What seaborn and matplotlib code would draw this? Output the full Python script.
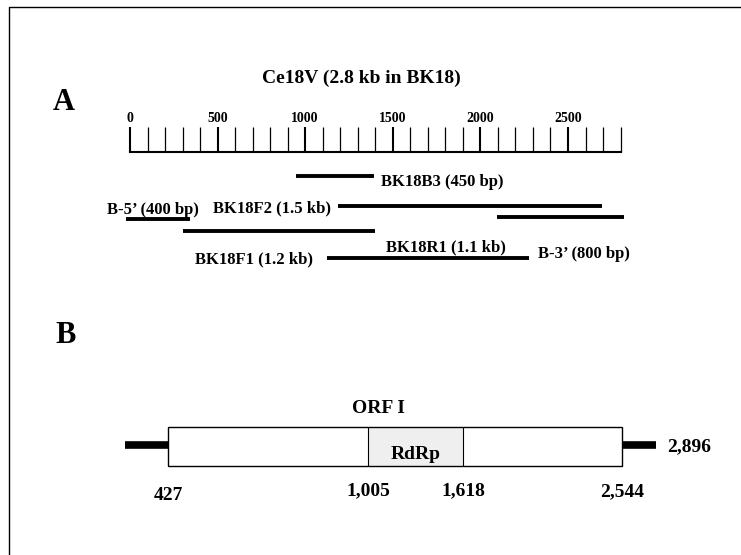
import numpy as np
import pandas as pd
import matplotlib
matplotlib.use("Agg")
import matplotlib.pyplot as plt
from matplotlib.ticker import MultipleLocator, FixedLocator
import seaborn as sns

# ---------------- data ----------------
title_a = "Ce18V (2.8 kb in BK18)"
ruler_max_bp = 2800
ruler_major_step = 500
ruler_minor_step = 100

fragment_names = ["BK18B3 (450 bp)", "BK18F2 (1.5 kb)", "B-5\u2019 (400 bp)",
                  "B-3\u2019 (800 bp)", "BK18F1 (1.2 kb)", "BK18R1 (1.1 kb)"]
fragment_start = [950, 1190, -20, 2095, 300, 1125]
fragment_end = [1395, 2695, 340, 2820, 1400, 2275]

genome_start = 0
orf_start = 427
rdrp_start = 1005
rdrp_end = 1618
orf_end = 2544
genome_end = 2896
orf_label = "ORF I"
domain_label = "RdRp"

# ---------------- layout (pixels) ----------------
W, H = 741, 555
RULER_X0 = 130          # pixel of bp 0
PX_PER_BP = 0.1752
RULER_BASE_Y = 152
TICK_LEN_PX = 25
fragment_row_y = [176, 206, 219, 217, 231, 258]
fragment_label_xy = [(381, 186), (213, 212), (107, 214),
                     (538, 258), (195, 263), (386, 251)]
# schematic positions of panel B (pixels) for the genome landmarks
b_px_knots = [125, 168, 368, 463, 622, 656]
box_top, box_bot = 427, 466
utr_y = 445

sns.set_theme(style="white")
serif = ["Liberation Serif", "DejaVu Serif"]
plt.rcParams["font.family"] = serif
plt.rcParams["font.weight"] = "bold"
plt.rcParams["text.color"] = "black"
plt.rcParams["xtick.color"] = "black"
plt.rcParams["xtick.labelcolor"] = "black"

fig = plt.figure(figsize=(W / 100, H / 100), dpi=100)
fig.patch.set_facecolor("white")

# pixel canvas for frame and free text
ax_px = fig.add_axes([0, 0, 1, 1])
ax_px.set_xlim(0, W)
ax_px.set_ylim(H, 0)
ax_px.axis("off")
ax_px.plot([9, 9, W], [H, 7, 7], color="black", lw=1.0, solid_capstyle="butt")
ax_px.text(53, 110, "A", fontsize=22, fontweight="bold", va="baseline", ha="left", color="black")
ax_px.text(55, 343, "B", fontsize=22, fontweight="bold", va="baseline", ha="left", color="black")
ax_px.text(361, 83, title_a, fontsize=14, fontweight="bold", ha="center", va="baseline", color="black")

# ---------------- panel A: fragments ----------------
ax_a = fig.add_axes([0, 0, 1, 1])
ax_a.patch.set_alpha(0)
rows = []
for name, s, e, y in zip(fragment_names, fragment_start, fragment_end, fragment_row_y):
    rows.append({"name": name, "x": s, "y": y})
    rows.append({"name": name, "x": e, "y": y})
df = pd.DataFrame(rows)
sns.lineplot(data=df, x="x", y="y", units="name", estimator=None, sort=False,
             color="black", lw=2.8, ax=ax_a, legend=False, solid_capstyle="butt")
ax_a.set_xlim(-RULER_X0 / PX_PER_BP, (W - RULER_X0) / PX_PER_BP)
ax_a.set_ylim(H, 0)
ax_a.axis("off")
for name, (lx, ly) in zip(fragment_names, fragment_label_xy):
    ax_px.text(lx, ly, name, fontsize=12, fontweight="bold", ha="left", va="baseline", color="black")

# ---------------- panel A: ruler ----------------
ruler = fig.add_axes([RULER_X0 / W, 1 - RULER_BASE_Y / H,
                      ruler_max_bp * PX_PER_BP / W, TICK_LEN_PX / H])
ruler.patch.set_alpha(0)
ruler.set_xlim(0, ruler_max_bp)
ruler.set_ylim(0, 1)
ruler.set_yticks([])
major = list(range(0, ruler_max_bp + 1, ruler_major_step))
ruler.xaxis.set_major_locator(FixedLocator(major))
ruler.set_xticklabels([str(v) for v in major])
ruler.xaxis.set_minor_locator(MultipleLocator(ruler_minor_step))
tick_len_pt = TICK_LEN_PX * 72 / 100
ruler.tick_params(axis="x", which="both", direction="in", bottom=True, top=False,
                  labelbottom=False, labeltop=True, pad=1.5, color="black",
                  labelcolor="black")
ruler.tick_params(axis="x", which="major", length=tick_len_pt, width=1.5,
                  labelsize=10)
ruler.tick_params(axis="x", which="minor", length=tick_len_pt, width=0.9)
for lab in ruler.get_xticklabels():
    lab.set_fontweight("bold")
    lab.set_family(serif)
sns.despine(ax=ruler, left=True, top=True, right=True, bottom=False)
ruler.spines["bottom"].set_color("black")
ruler.spines["bottom"].set_linewidth(1.5)

# ---------------- panel B: genome organisation ----------------
bp_knots = [genome_start, orf_start, rdrp_start, rdrp_end, orf_end, genome_end]
span = b_px_knots[-1] - b_px_knots[0]
n_knots = [(p - b_px_knots[0]) / span for p in b_px_knots]


def fwd(x):
    return np.interp(x, bp_knots, n_knots)


def inv(y):
    return np.interp(y, n_knots, bp_knots)


ax_b = fig.add_axes([b_px_knots[0] / W, 0, span / W, 1])
ax_b.patch.set_alpha(0)
ax_b.set_xscale("function", functions=(fwd, inv))
box_h = box_bot - box_top
box_c = (box_top + box_bot) / 2
ax_b.barh(box_c, rdrp_end - rdrp_start, left=rdrp_start, height=box_h,
          color="#efefef", edgecolor="none", zorder=1)
ax_b.barh(box_c, orf_end - orf_start, left=orf_start, height=box_h,
          facecolor="none", edgecolor="black", lw=1.0, zorder=2)
ax_b.vlines([rdrp_start, rdrp_end], box_top, box_bot, color="black", lw=0.8, zorder=3)
ax_b.plot([genome_start, orf_start], [utr_y, utr_y], color="black", lw=5.5,
          solid_capstyle="butt", clip_on=False)
ax_b.plot([orf_end, genome_end], [utr_y, utr_y], color="black", lw=5.5,
          solid_capstyle="butt", clip_on=False)
ax_b.set_xlim(genome_start, genome_end)
ax_b.set_ylim(H, 0)
ax_b.axis("off")

ax_b.text((rdrp_start + rdrp_end) / 2, 459, domain_label, fontsize=14,
          fontweight="bold", ha="center", va="baseline", color="black")
ax_px.text(378, 413, orf_label, fontsize=14, fontweight="bold", ha="center",
           va="baseline", color="black")
for v, yb in zip([orf_start, rdrp_start, rdrp_end, orf_end], [500, 495, 495, 496]):
    ax_b.text(v, yb, f"{v:,}", fontsize=14, fontweight="bold", ha="center",
              va="baseline", color="black")
ax_b.annotate(f"{genome_end:,}", xy=(genome_end, 451), xytext=(8, 0),
              textcoords="offset points", fontsize=14, fontweight="bold",
              ha="left", va="baseline", annotation_clip=False, color="black")

fig.savefig("out.png", dpi=100, facecolor="white")
